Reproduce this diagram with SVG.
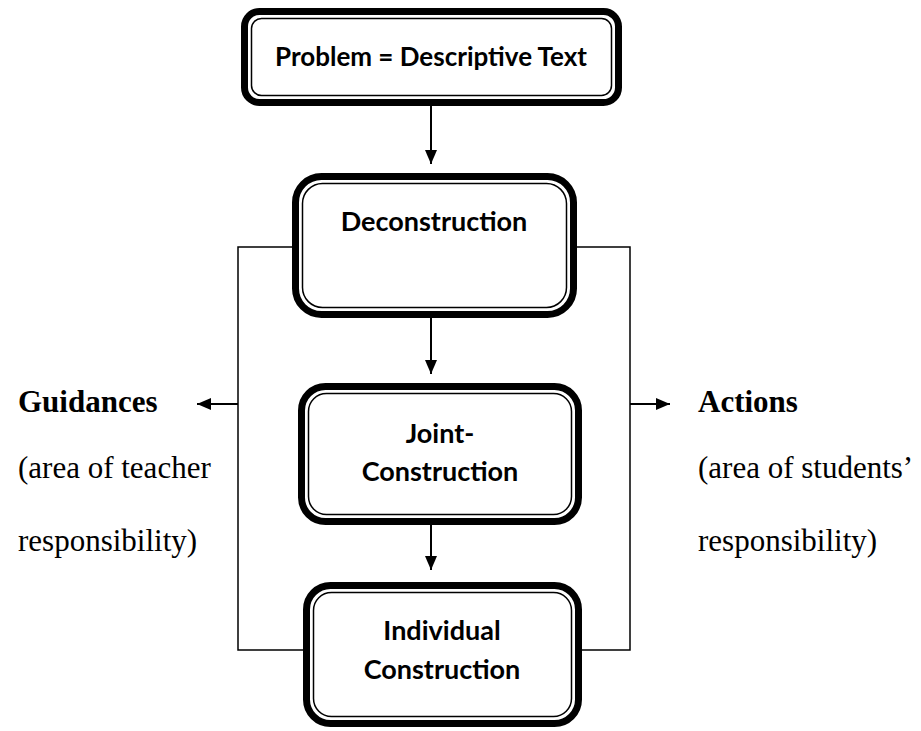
<svg xmlns="http://www.w3.org/2000/svg" width="921" height="731" viewBox="0 0 921 731">
  <defs>
    <marker id="arrow" viewBox="0 0 14 12" refX="14" refY="6" markerWidth="14" markerHeight="12" markerUnits="userSpaceOnUse" orient="auto">
      <path d="M0,0 L14,6 L0,12 Z" fill="#000"/>
    </marker>
    <style>
      .outer { fill: #fff; stroke: #000; stroke-width: 7; }
      .inner { fill: none; stroke: #000; stroke-width: 1.5; }
      .box-text { font-family: Lato, "Open Sans", sans-serif; font-weight: bold; font-size: 27px; fill: #000; text-anchor: middle; }
      .flow { fill: none; stroke: #000; stroke-width: 2; }
      .line { fill: none; stroke: #000; stroke-width: 1.5; }
      .side-title { font-family: "Liberation Serif", serif; font-weight: bold; font-size: 31px; fill: #000; }
      .side-text { font-family: "Liberation Serif", serif; font-size: 31px; fill: #000; }
    </style>
  </defs>

  <!-- connectors -->
  <g id="connectors">
    <line class="flow" x1="431" y1="106" x2="431" y2="164" marker-end="url(#arrow)"/>
    <line class="flow" x1="431" y1="318" x2="431" y2="374" marker-end="url(#arrow)"/>
    <line class="flow" x1="431" y1="525" x2="431" y2="570" marker-end="url(#arrow)"/>
    <!-- left bracket -->
    <polyline class="line" points="292,247 238,247 238,650 303,650"/>
    <!-- right bracket -->
    <polyline class="line" points="577,247 630,247 630,650 582,650"/>
    <line class="flow" x1="238" y1="404" x2="197" y2="404" marker-end="url(#arrow)"/>
    <line class="flow" x1="630" y1="404" x2="670" y2="404" marker-end="url(#arrow)"/>
  </g>

  <g id="problem">
    <rect class="outer" x="244.5" y="11.5" width="374" height="91" rx="15"/>
    <rect class="inner" x="251.5" y="18.5" width="360" height="77" rx="10"/>
    <text class="box-text" x="431" y="66" style="font-size:26px">Problem = Descriptive Text</text>
  </g>

  <g id="deconstruction">
    <rect class="outer" x="295.5" y="176.5" width="278" height="138" rx="26"/>
    <rect class="inner" x="302.5" y="183.5" width="264" height="124" rx="20"/>
    <text class="box-text" x="434" y="231">Deconstruction</text>
  </g>

  <g id="joint-construction">
    <rect class="outer" x="301.5" y="386.5" width="277" height="135" rx="24"/>
    <rect class="inner" x="308.5" y="393.5" width="263" height="121" rx="18"/>
    <text class="box-text" x="440" y="443">Joint-</text>
    <text class="box-text" x="440" y="481">Construction</text>
  </g>

  <g id="individual-construction">
    <rect class="outer" x="306.5" y="585.5" width="272" height="138" rx="24"/>
    <rect class="inner" x="313.5" y="592.5" width="258" height="124" rx="18"/>
    <text class="box-text" x="442" y="640">Individual</text>
    <text class="box-text" x="442" y="679">Construction</text>
  </g>

  <g id="guidances">
    <text class="side-title" x="18" y="412">Guidances</text>
    <text class="side-text" x="18" y="478">(area of teacher</text>
    <text class="side-text" x="18" y="551">responsibility)</text>
  </g>

  <g id="actions">
    <text class="side-title" x="698" y="412">Actions</text>
    <text class="side-text" x="698" y="478">(area of students’</text>
    <text class="side-text" x="698" y="551">responsibility)</text>
  </g>
</svg>
